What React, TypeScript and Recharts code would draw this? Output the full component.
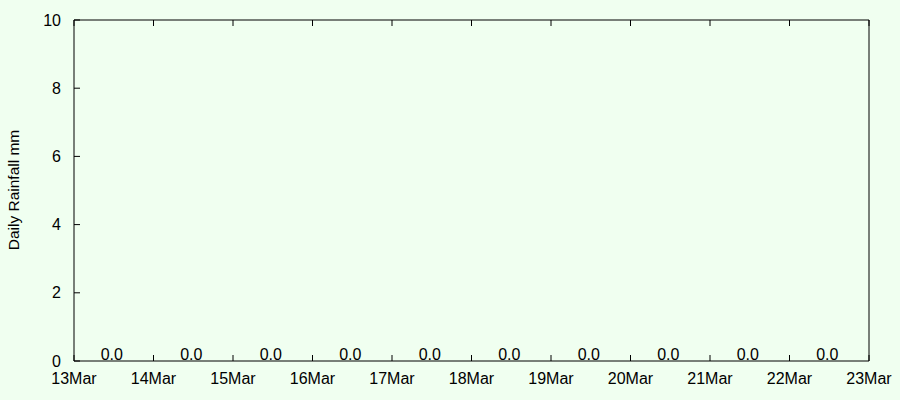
import React from "react";
import { ComposedChart, Line, XAxis, YAxis, LabelList } from "recharts";

const dayLabels = ["13Mar", "14Mar", "15Mar", "16Mar", "17Mar", "18Mar", "19Mar", "20Mar", "21Mar", "22Mar", "23Mar"];
const barPositions = [0.5, 1.5, 2.5, 3.5, 4.5, 5.5, 6.5, 7.5, 8.5, 9.5];
const rainfall = [0, 0, 0, 0, 0, 0, 0, 0, 0, 0];
const yTicks = [0, 2, 4, 6, 8, 10];
const xTicks = [0, 1, 2, 3, 4, 5, 6, 7, 8, 9, 10];

const data = barPositions.map((x, i) => ({ x, rain: rainfall[i] }));

const FONT = "'Liberation Sans', Arial, sans-serif";
const tickStyle = { fontSize: 16, fontFamily: FONT, fill: "#000" };
const axisLine = { stroke: "#000", strokeWidth: 1 };
const tickLine = { stroke: "#000", strokeWidth: 1 };

const ValueLabel = (p: any) => (
  <text x={p.x - 2} y={p.y - 1} textAnchor="middle" fontSize={16} fontFamily={FONT} fill="#000">
    {Number(p.value).toFixed(1)}
  </text>
);

export default function App() {
  return (
    <div style={{ position: "absolute", left: 0, top: 0, width: 900, height: 400, background: "#f0fff0" }}>
      <ComposedChart
        width={900}
        height={400}
        data={data}
        margin={{ top: 19, right: 0, bottom: 0, left: 0 }}
      >
        <XAxis
          xAxisId="bottom"
          dataKey="x"
          type="number"
          domain={[0, 10]}
          ticks={xTicks}
          interval={0}
          height={39}
          tickSize={-6}
          tickMargin={18}
          tickLine={tickLine}
          axisLine={axisLine}
          tick={tickStyle}
          tickFormatter={(v: any) => dayLabels[v]}
        />
        <XAxis
          xAxisId="top"
          orientation="top"
          dataKey="x"
          type="number"
          domain={[0, 10]}
          ticks={xTicks}
          interval={0}
          height={1}
          tickSize={-6}
          tickMargin={0}
          tickLine={tickLine}
          axisLine={axisLine}
          tick={tickStyle}
          tickFormatter={() => ""}
        />
        <YAxis
          yAxisId="left"
          type="number"
          domain={[0, 10]}
          ticks={yTicks}
          interval={0}
          width={74}
          tickSize={-6}
          tickMargin={19}
          tickLine={tickLine}
          axisLine={axisLine}
          tick={tickStyle}
          label={{
            content: () => (
              <text
                x={19}
                y={190}
                transform="rotate(-90 19 190)"
                textAnchor="middle"
                fontSize={15.5}
                fontFamily={FONT}
                fill="#000"
              >
                Daily Rainfall mm
              </text>
            ),
          }}
        />
        <YAxis
          yAxisId="right"
          orientation="right"
          type="number"
          domain={[0, 10]}
          ticks={yTicks}
          interval={0}
          width={31}
          tickSize={-6}
          tickMargin={0}
          tickLine={tickLine}
          axisLine={axisLine}
          tick={tickStyle}
          tickFormatter={() => ""}
        />
        <Line
          xAxisId="bottom"
          yAxisId="left"
          dataKey="rain"
          stroke="none"
          dot={false}
          activeDot={false}
          isAnimationActive={false}
        >
          <LabelList dataKey="rain" content={<ValueLabel />} />
        </Line>
      </ComposedChart>
    </div>
  );
}
